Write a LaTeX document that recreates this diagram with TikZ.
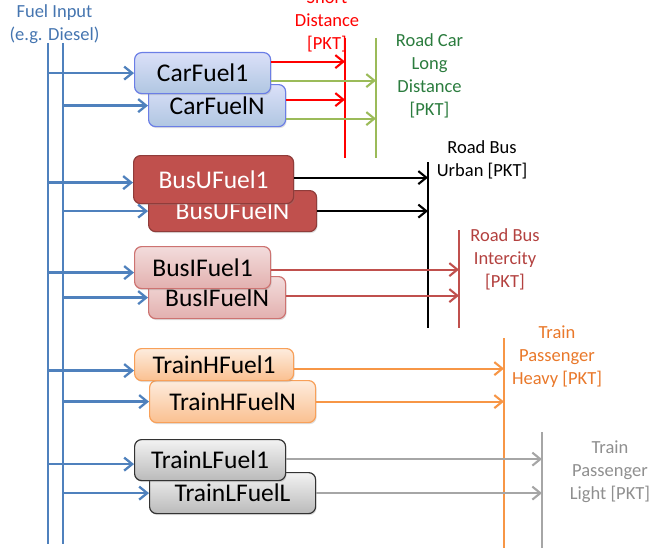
\documentclass[tikz,border=0pt]{standalone}
\usepackage{fontspec}
\setmainfont{Carlito}
\usetikzlibrary{arrows.meta,shadows}
\definecolor{fblue}{HTML}{4F81BD}
\definecolor{fbluetxt}{HTML}{4575B0}
\definecolor{cred}{HTML}{FF0000}
\definecolor{cgreen}{HTML}{9BBB59}
\definecolor{cgreentxt}{HTML}{2B7C3E}
\definecolor{cdred}{HTML}{C0504D}
\definecolor{cdredtxt}{HTML}{B3413F}
\definecolor{corange}{HTML}{F79646}
\definecolor{corangetxt}{HTML}{E9782A}
\definecolor{cgray}{HTML}{A6A6A6}
\definecolor{cgraytxt}{HTML}{8F8F8F}
\begin{document}
\begin{tikzpicture}[x=1pt,y=-1pt,
  vline/.style={line width=2.6pt},
  inarrow/.style={draw=fblue,line width=2.3pt,-{Straight Barb[length=8pt,width=13pt,line width=2.3pt]}},
  outarrow/.style={line width=2.1pt,-{Straight Barb[length=8pt,width=13pt,line width=2.1pt]}},
  fbox/.style={rounded corners=7pt,line width=1.2pt,inner sep=0pt,anchor=north west,
    font=\fontsize{25.5}{28}\selectfont,
    drop shadow={shadow xshift=1pt,shadow yshift=-1.5pt,opacity=0.25}},
  carbox/.style={fbox,draw=blue!45!fblue!70,top color=blue!8!white!90!fblue,bottom color=fblue!45!white,text=black},
  busubox/.style={fbox,draw=cdred!75!black,fill=cdred,text=white},
  busibox/.style={fbox,draw=cdred!80!white,top color=cdred!20!white,bottom color=cdred!45!white,text=black},
  trainhbox/.style={fbox,draw=corange!90!white,top color=corange!18!white,bottom color=corange!60!white,text=black},
  trainlbox/.style={fbox,draw=black!80,top color=black!5,bottom color=black!27,text=black},
  lbl/.style={align=center,inner sep=0pt,font=\fontsize{18.5}{23}\selectfont}
]
\useasboundingbox (0,0) rectangle (652,551);
\clip (0,0) rectangle (652,551);

% input lines
\coordinate (B1t) at (48,43);  \coordinate (B1b) at (48,544);
\coordinate (B2t) at (63,43);  \coordinate (B2b) at (63,544);
% target lines
\coordinate (Rt) at (345,38);  \coordinate (Rb) at (345,158);
\coordinate (Gt) at (376,38);  \coordinate (Gb) at (376,158);
\coordinate (Kt) at (428,162); \coordinate (Kb) at (428,328);
\coordinate (Dt) at (459,230); \coordinate (Db) at (459,328);
\coordinate (Ot) at (504,338); \coordinate (Ob) at (504,548);
\coordinate (Yt) at (542,432); \coordinate (Yb) at (542,548);

\draw[vline,fblue] (B1t) -- (B1b);
\draw[vline,fblue] (B2t) -- (B2b);
\draw[vline,cred] (Rt) -- (Rb);
\draw[vline,cgreen] (Gt) -- (Gb);
\draw[vline,black] (Kt) -- (Kb);
\draw[vline,cdred] (Dt) -- (Db);
\draw[vline,corange] (Ot) -- (Ob);
\draw[vline,cgray] (Yt) -- (Yb);

% labels
\node[lbl,text=fbluetxt] (fin) at (54.5,24.5) {Fuel Input\\(e.g. Diesel)};
\node[lbl,text=cred] (lsd) at (327,21) {Short\\Distance\\{[PKT]}};
\node[lbl,text=cgreentxt] (lld) at (429.5,76) {Road Car\\Long\\Distance\\{[PKT]}};
\node[lbl,text=black] (lbu) at (482,159.5) {Road Bus\\Urban [PKT]};
\node[lbl,text=cdredtxt] (lbi) at (505,259) {Road Bus\\Intercity\\{[PKT]}};
\node[lbl,text=corangetxt] (lth) at (557,357) {Train\\Passenger\\Heavy [PKT]};
\node[lbl,text=cgraytxt] (ltl) at (610,472) {Train\\Passenger\\Light [PKT]};

% boxes (N first, then 1 on top)
\node[carbox,minimum width=137,minimum height=42] (cN) at (148,84) {CarFuelN};
\node[carbox,minimum width=136,minimum height=41] (c1) at (134,52) {CarFuel1};
\node[busubox,minimum width=168,minimum height=41] (buN) at (148,190) {BusUFuelN};
\node[busubox,minimum width=160,minimum height=48] (bu1) at (133,155) {BusUFuel1};
\node[busibox,minimum width=137,minimum height=42] (biN) at (148,276) {BusIFuelN};
\node[busibox,minimum width=136,minimum height=42] (bi1) at (134,246) {BusIFuel1};
\node[trainhbox,minimum width=166,minimum height=42] (thN) at (149,380) {TrainHFuelN};
\node[trainhbox,minimum width=159,minimum height=32] (th1) at (134,348) {TrainHFuel1};
\node[trainlbox,minimum width=166,minimum height=41] (tlL) at (149,472) {TrainLFuelL};
\node[trainlbox,minimum width=151,minimum height=41] (tl1) at (134,439) {TrainLFuel1};

% input arrow anchors
\coordinate (bu1in) at ([yshift=-3pt]bu1.west);
\coordinate (bi1in) at ([yshift=-5pt]bi1.west);
\coordinate (th1in) at ([yshift=-6pt]th1.west);
\coordinate (tl1in) at ([yshift=-4pt]tl1.west);

\draw[inarrow] (c1.west -| B1t) -- (c1.west);
\draw[inarrow] (cN.west -| B2t) -- (cN.west);
\draw[inarrow] (bu1in -| B1t) -- (bu1in);
\draw[inarrow] (buN.west -| B2t) -- (buN.west);
\draw[inarrow] (bi1in -| B1t) -- (bi1in);
\draw[inarrow] (biN.west -| B2t) -- (biN.west);
\draw[inarrow] (th1in -| B1t) -- (th1in);
\draw[inarrow] (thN.west -| B2t) -- (thN.west);
\draw[inarrow] (tl1in -| B1t) -- (tl1in);
\draw[inarrow] (tlL.west -| B2t) -- (tlL.west);

% output arrow anchors
\coordinate (c1r) at ([yshift=11.5pt]c1.east);
\coordinate (c1g) at ([yshift=-7.5pt]c1.east);
\coordinate (cNr) at ([yshift=6pt]cN.east);
\coordinate (cNg) at ([yshift=-13pt]cN.east);
\coordinate (bu1o) at ([yshift=2pt]bu1.east);
\coordinate (bi1o) at ([yshift=-2pt]bi1.east);
\coordinate (biNo) at ([yshift=2pt]biN.east);
\coordinate (th1o) at ([yshift=-4pt]th1.east);
\coordinate (tl1o) at ([yshift=1pt]tl1.east);

\draw[outarrow,cred] (c1r) -- (c1r -| Rt);
\draw[outarrow,cgreen] (c1g) -- (c1g -| Gt);
\draw[outarrow,cred] (cNr) -- (cNr -| Rt);
\draw[outarrow,cgreen] (cNg) -- (cNg -| Gt);
\draw[outarrow,black] (bu1o) -- (bu1o -| Kt);
\draw[outarrow,black] (buN.east) -- (buN.east -| Kt);
\draw[outarrow,cdred] (bi1o) -- (bi1o -| Dt);
\draw[outarrow,cdred] (biNo) -- (biNo -| Dt);
\draw[outarrow,corange] (th1o) -- (th1o -| Ot);
\draw[outarrow,corange] (thN.east) -- (thN.east -| Ot);
\draw[outarrow,cgray] (tl1o) -- (tl1o -| Yt);
\draw[outarrow,cgray] (tlL.east) -- (tlL.east -| Yt);
\end{tikzpicture}
\end{document}
